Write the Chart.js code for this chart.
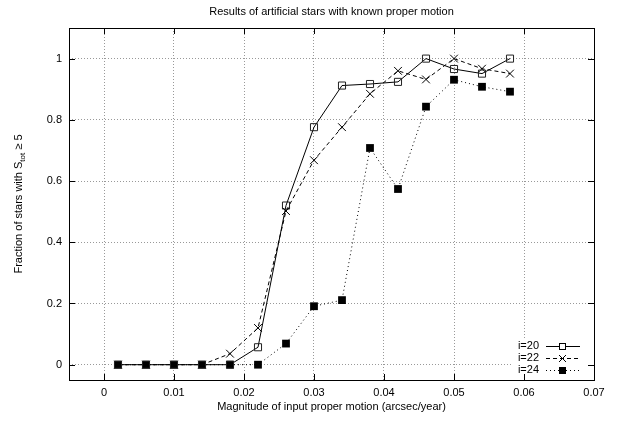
<!DOCTYPE html>
<html>
<head>
<meta charset="utf-8">
<script src="https://cdn.jsdelivr.net/npm/chart.js@4.4.0/dist/chart.umd.min.js"></script>
<style>
  html, body { margin: 0; padding: 0; background: #fff; }
  #wrap { width: 623px; height: 422px; }
</style>
</head>
<body>
<div id="wrap"><canvas id="starChart"></canvas></div>
<script>
// proper motion (arcsec/year) of the artificial stars
var motion = [0.002, 0.006, 0.010, 0.014, 0.018, 0.022, 0.026, 0.030, 0.034, 0.038, 0.042, 0.046, 0.050, 0.054, 0.058];
var frac20 = [0, 0, 0, 0, 0, 0.057, 0.52, 0.776, 0.912, 0.917, 0.924, 1.0, 0.966, 0.951, 1.0];
var frac22 = [0, 0, 0, 0, 0.036, 0.12, 0.502, 0.668, 0.776, 0.885, 0.96, 0.932, 1.0, 0.967, 0.951];
var frac24 = [0, 0, 0, 0, 0, 0, 0.069, 0.191, 0.211, 0.708, 0.574, 0.843, 0.931, 0.908, 0.892];
var seriesNames = ["i=20", "i=22", "i=24"];

var xTicks = [0, 0.01, 0.02, 0.03, 0.04, 0.05, 0.06, 0.07];
var yTicks = [0, 0.2, 0.4, 0.6, 0.8, 1];
var xRange = [-0.005, 0.07];
var yRange = [-0.05, 1.1];

var titleText = "Results of artificial stars with known proper motion";
var xTitle = "Magnitude of input proper motion (arcsec/year)";

var font = "Liberation Sans, Arial, sans-serif";

function toPoints(ys) {
    return motion.map(function (m, i) { return { x: m, y: ys[i] }; });
}

var data = {
    datasets: [{
        label: seriesNames[0],
        data: toPoints(frac20),
        borderColor: "#000",
        borderWidth: 1,
        pointStyle: "rect",
        pointRadius: 5,
        pointBorderWidth: 1,
        pointBorderColor: "#222",
        pointBackgroundColor: "rgba(255,255,255,0)",
    }, {
        label: seriesNames[1],
        data: toPoints(frac22),
        borderColor: "#000",
        borderWidth: 1,
        borderDash: [4, 3],
        pointStyle: "crossRot",
        pointRadius: 5.5,
        pointBorderWidth: 1,
        pointBorderColor: "#000",
    }, {
        label: seriesNames[2],
        data: toPoints(frac24),
        borderColor: "#000",
        borderWidth: 1,
        borderDash: [1, 3],
        pointStyle: "rect",
        pointRadius: 5.5,
        pointBorderWidth: 0,
        pointBackgroundColor: "#000",
    }]
};

// key marker shapes, one per series
var keyMarks = ["open", "cross", "filled"];

// frame, inward ticks, titles and a gnuplot-like key
var gnuFrame = {
    id: "gnuFrame",
    afterDraw: function (chart) {
        var ctx = chart.ctx;
        var a = chart.chartArea;
        var xs = chart.scales.x, ys = chart.scales.y;
        ctx.save();

        // key box
        var rowY = [346, 358, 370];
        var mx = 562.5;
        ctx.fillStyle = "#fff";
        ctx.fillRect(511, 340, a.right - 511 - 1, 36);
        chart.data.datasets.forEach(function (ds, i) {
            var y = rowY[i];
            ctx.font = "11px " + font;
            ctx.fillStyle = "#000";
            ctx.textAlign = "right";
            ctx.textBaseline = "middle";
            ctx.fillText(ds.label, 539, y);
            ctx.strokeStyle = "#000";
            ctx.lineWidth = 1;
            ctx.setLineDash(ds.borderDash || []);
            ctx.beginPath();
            ctx.moveTo(546, y + 0.5);
            ctx.lineTo(580, y + 0.5);
            ctx.stroke();
            ctx.setLineDash([]);
            if (keyMarks[i] === "filled") {
                ctx.fillStyle = "#000";
                ctx.fillRect(mx - 3.5, y - 3, 7, 7);
            } else if (keyMarks[i] === "open") {
                ctx.fillStyle = "#fff";
                ctx.fillRect(mx - 3, y - 2.5, 6, 6);
                ctx.strokeRect(mx - 3, y - 2.5, 6, 6);
            } else {
                ctx.beginPath();
                ctx.moveTo(mx - 3.5, y - 3); ctx.lineTo(mx + 3.5, y + 4);
                ctx.moveTo(mx + 3.5, y - 3); ctx.lineTo(mx - 3.5, y + 4);
                ctx.stroke();
            }
        });

        // border
        ctx.strokeStyle = "#000";
        ctx.lineWidth = 1;
        ctx.setLineDash([]);
        ctx.strokeRect(Math.round(a.left) + 0.5, Math.round(a.top) + 0.5,
            Math.round(a.right - a.left), Math.round(a.bottom - a.top));

        // inward tick marks
        ctx.beginPath();
        xTicks.forEach(function (v) {
            var px = Math.round(xs.getPixelForValue(v)) + 0.5;
            ctx.moveTo(px, a.bottom); ctx.lineTo(px, a.bottom - 6);
            ctx.moveTo(px, a.top); ctx.lineTo(px, a.top + 6);
        });
        yTicks.forEach(function (v) {
            var py = Math.round(ys.getPixelForValue(v)) + 0.5;
            ctx.moveTo(a.left, py); ctx.lineTo(a.left + 6, py);
            ctx.moveTo(a.right, py); ctx.lineTo(a.right - 6, py);
        });
        ctx.stroke();

        // titles
        var cx = (a.left + a.right) / 2;
        ctx.fillStyle = "#000";
        ctx.textAlign = "center";
        ctx.textBaseline = "middle";
        ctx.font = "11px " + font;
        ctx.fillText(titleText, cx, 12);
        ctx.fillText(xTitle, cx, 407);

        // y title with subscript
        var cy = (a.top + a.bottom) / 2;
        ctx.translate(19, cy);
        ctx.rotate(-Math.PI / 2);
        var p1 = "Fraction of stars with S", p2 = "tot", p3 = " \u2265 5";
        ctx.font = "11px " + font;
        var w1 = ctx.measureText(p1).width, w3 = ctx.measureText(p3).width;
        ctx.font = "8px " + font;
        var w2 = ctx.measureText(p2).width;
        var x0 = -(w1 + w2 + w3) / 2;
        ctx.textAlign = "left";
        ctx.font = "11px " + font;
        ctx.fillText(p1, x0, 0);
        ctx.font = "8px " + font;
        ctx.fillText(p2, x0 + w1, 4);
        ctx.font = "11px " + font;
        ctx.fillText(p3, x0 + w1 + w2, 0);

        ctx.restore();
    }
};

var config = {
    type: "line",
    data: data,
    options: {
        responsive: true,
        maintainAspectRatio: false,
        animation: false,
        devicePixelRatio: 1,
        layout: { padding: { top: 28, right: 29, left: 0, bottom: 0 } },
        plugins: {
            legend: { display: false },
            title: { display: false },
            tooltip: { enabled: false }
        },
        scales: {
            x: {
                type: "linear",
                min: xRange[0],
                max: xRange[1],
                afterBuildTicks: function (scale) {
                    scale.ticks = xTicks.map(function (v) { return { value: v }; });
                },
                afterFit: function (scale) { scale.height = 42; },
                grid: { color: "#999", drawTicks: false, lineWidth: 1 },
                border: { display: false, dash: [1, 2] },
                ticks: {
                    padding: 6,
                    color: "#000",
                    font: { family: font, size: 11 },
                    maxRotation: 0,
                    callback: function (v) { return String(v); }
                }
            },
            y: {
                type: "linear",
                min: yRange[0],
                max: yRange[1],
                afterBuildTicks: function (scale) {
                    scale.ticks = yTicks.map(function (v) { return { value: v }; });
                },
                afterFit: function (scale) { scale.width = 69; },
                grid: { color: "#999", drawTicks: false, lineWidth: 1 },
                border: { display: false, dash: [1, 2] },
                ticks: {
                    padding: 7,
                    color: "#000",
                    font: { family: font, size: 11 },
                    callback: function (v) { return String(v); }
                }
            }
        }
    },
    plugins: [gnuFrame]
};

var starChart = new Chart(document.getElementById("starChart"), config);
</script>
</body>
</html>
